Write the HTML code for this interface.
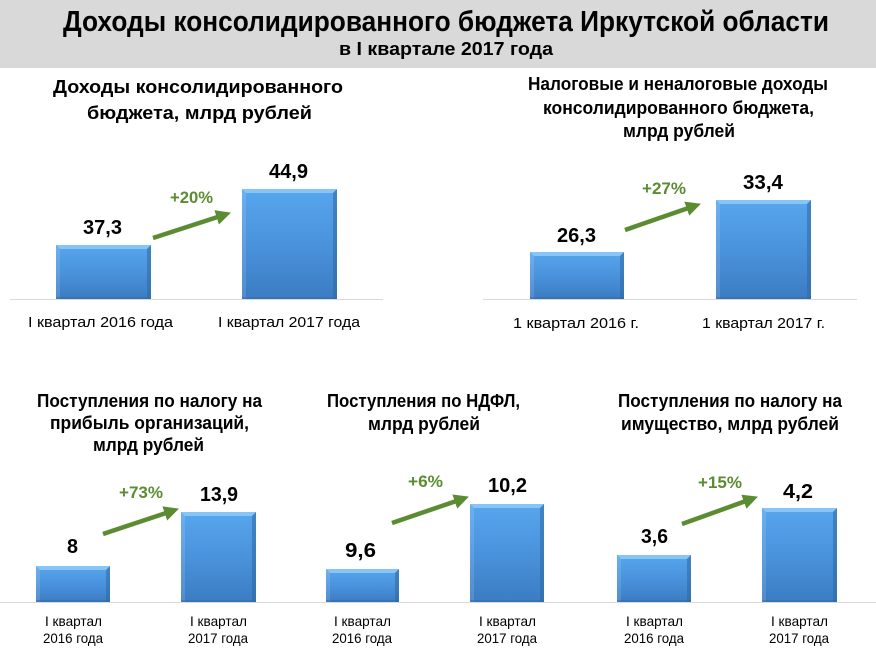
<!DOCTYPE html>
<html><head><meta charset="utf-8"><style>
html,body{margin:0;padding:0;background:#fff;}
svg{display:block;}
text{font-family:"Liberation Sans","DejaVu Sans",sans-serif;}
.t{font-weight:bold;fill:#000;}
.v{font-weight:bold;fill:#000;font-size:20px;}
.p{font-weight:bold;fill:#5b8c32;font-size:17px;}
.c{fill:#000;font-size:15px;}
.c2{fill:#000;font-size:14px;}
.h{font-weight:bold;fill:#000;font-size:18px;}
</style></head><body>
<svg width="876" height="658" viewBox="0 0 876 658" xmlns="http://www.w3.org/2000/svg">
<defs>
<linearGradient id="g" x1="0" y1="0" x2="0" y2="1">
<stop offset="0" stop-color="#57a6ee"/>
<stop offset="0.5" stop-color="#4a93dc"/>
<stop offset="1" stop-color="#3b7cc3"/>
</linearGradient>
<marker id="ah" markerUnits="userSpaceOnUse" markerWidth="15" markerHeight="15" viewBox="0 0 15 15" refX="1" refY="7.5" orient="auto">
<path d="M0,0 L15,7.5 L0,15 z" fill="#5b8c32"/>
</marker>
</defs>

<!-- header -->
<rect x="0" y="0" width="876" height="68" fill="#d9d9d9"/>
<text class="t" x="63" y="31" font-size="29" textLength="766" lengthAdjust="spacingAndGlyphs">Доходы консолидированного бюджета Иркутской области</text>
<text class="t" x="339" y="55" font-size="18" textLength="214" lengthAdjust="spacingAndGlyphs">в I квартале 2017 года</text>

<!-- axes -->
<line x1="10" y1="299.5" x2="383" y2="299.5" stroke="#d9d9d9" stroke-width="1"/>
<line x1="483" y1="299.5" x2="857" y2="299.5" stroke="#d9d9d9" stroke-width="1"/>
<line x1="0" y1="602.5" x2="876" y2="602.5" stroke="#d9d9d9" stroke-width="1"/>

<!-- Chart 1 -->
<text class="h" x="53" y="93" font-size="20" textLength="290" lengthAdjust="spacingAndGlyphs">Доходы консолидированного</text>
<text class="h" x="87" y="119" font-size="20" textLength="225" lengthAdjust="spacingAndGlyphs">бюджета, млрд рублей</text>

<g>
<rect x="56" y="245" width="95" height="54" fill="url(#g)"/>
<polygon points="56,245 151,245 147,249 60,249" fill="#86c6f6"/>
<polygon points="151,245 151,299 147,299 147,249" fill="#2f679f" opacity="0.55"/>
<polygon points="56,245 60,249 60,299 56,299" fill="#ffffff" opacity="0.12"/>
<rect x="56" y="297" width="95" height="2" fill="#2f679f" opacity="0.4"/>
</g>
<g>
<rect x="242" y="189" width="95" height="110" fill="url(#g)"/>
<polygon points="242,189 337,189 333,193 246,193" fill="#86c6f6"/>
<polygon points="337,189 337,299 333,299 333,193" fill="#2f679f" opacity="0.55"/>
<polygon points="242,189 246,193 246,299 242,299" fill="#ffffff" opacity="0.12"/>
<rect x="242" y="297" width="95" height="2" fill="#2f679f" opacity="0.4"/>
</g>
<text class="v" x="83" y="234" textLength="39" lengthAdjust="spacingAndGlyphs">37,3</text>
<text class="v" x="269" y="178" textLength="39" lengthAdjust="spacingAndGlyphs">44,9</text>
<text class="p" x="170" y="203" textLength="43" lengthAdjust="spacingAndGlyphs">+20%</text>
<line x1="153" y1="238" x2="217.6" y2="217.0" stroke="#5b8c32" stroke-width="4.5" marker-end="url(#ah)"/>
<text class="c" x="28" y="327" textLength="145" lengthAdjust="spacingAndGlyphs">I квартал 2016 года</text>
<text class="c" x="218" y="327" textLength="142" lengthAdjust="spacingAndGlyphs">I квартал 2017 года</text>

<!-- Chart 2 -->
<text class="h" x="528" y="90" textLength="300" lengthAdjust="spacingAndGlyphs">Налоговые и неналоговые доходы</text>
<text class="h" x="543" y="114" textLength="271" lengthAdjust="spacingAndGlyphs">консолидированного бюджета,</text>
<text class="h" x="623" y="137" textLength="112" lengthAdjust="spacingAndGlyphs">млрд рублей</text>

<g>
<rect x="530" y="252" width="94" height="47" fill="url(#g)"/>
<polygon points="530,252 624,252 620,256 534,256" fill="#86c6f6"/>
<polygon points="624,252 624,299 620,299 620,256" fill="#2f679f" opacity="0.55"/>
<polygon points="530,252 534,256 534,299 530,299" fill="#ffffff" opacity="0.12"/>
<rect x="530" y="297" width="94" height="2" fill="#2f679f" opacity="0.4"/>
</g>
<g>
<rect x="716" y="200" width="95" height="99" fill="url(#g)"/>
<polygon points="716,200 811,200 807,204 720,204" fill="#86c6f6"/>
<polygon points="811,200 811,299 807,299 807,204" fill="#2f679f" opacity="0.55"/>
<polygon points="716,200 720,204 720,299 716,299" fill="#ffffff" opacity="0.12"/>
<rect x="716" y="297" width="95" height="2" fill="#2f679f" opacity="0.4"/>
</g>
<text class="v" x="557" y="242" textLength="39" lengthAdjust="spacingAndGlyphs">26,3</text>
<text class="v" x="743" y="189" textLength="40" lengthAdjust="spacingAndGlyphs">33,4</text>
<text class="p" x="642" y="194" textLength="44" lengthAdjust="spacingAndGlyphs">+27%</text>
<line x1="625" y1="230" x2="687.7" y2="208.3" stroke="#5b8c32" stroke-width="4.5" marker-end="url(#ah)"/>
<text class="c" x="513" y="328" textLength="126" lengthAdjust="spacingAndGlyphs">1 квартал 2016 г.</text>
<text class="c" x="702" y="328" textLength="123" lengthAdjust="spacingAndGlyphs">1 квартал 2017 г.</text>

<!-- Chart 3 -->
<text class="h" x="37" y="407" textLength="225" lengthAdjust="spacingAndGlyphs">Поступления по налогу на</text>
<text class="h" x="50" y="429" textLength="199" lengthAdjust="spacingAndGlyphs">прибыль организаций,</text>
<text class="h" x="93" y="451" textLength="111" lengthAdjust="spacingAndGlyphs">млрд рублей</text>

<g>
<rect x="36" y="566" width="74" height="36" fill="url(#g)"/>
<polygon points="36,566 110,566 106,570 40,570" fill="#86c6f6"/>
<polygon points="110,566 110,602 106,602 106,570" fill="#2f679f" opacity="0.55"/>
<polygon points="36,566 40,570 40,602 36,602" fill="#ffffff" opacity="0.12"/>
<rect x="36" y="600" width="74" height="2" fill="#2f679f" opacity="0.4"/>
</g>
<g>
<rect x="181" y="512" width="75" height="90" fill="url(#g)"/>
<polygon points="181,512 256,512 252,516 185,516" fill="#86c6f6"/>
<polygon points="256,512 256,602 252,602 252,516" fill="#2f679f" opacity="0.55"/>
<polygon points="181,512 185,516 185,602 181,602" fill="#ffffff" opacity="0.12"/>
<rect x="181" y="600" width="75" height="2" fill="#2f679f" opacity="0.4"/>
</g>
<text class="v" x="67" y="553" textLength="11" lengthAdjust="spacingAndGlyphs">8</text>
<text class="v" x="200" y="501" textLength="38" lengthAdjust="spacingAndGlyphs">13,9</text>
<text class="p" x="119" y="498" textLength="44" lengthAdjust="spacingAndGlyphs">+73%</text>
<line x1="103" y1="534" x2="165.7" y2="513.1" stroke="#5b8c32" stroke-width="4.5" marker-end="url(#ah)"/>
<text class="c2" x="45" y="626" textLength="57" lengthAdjust="spacingAndGlyphs">I квартал</text>
<text class="c2" x="43" y="643" textLength="60" lengthAdjust="spacingAndGlyphs">2016 года</text>
<text class="c2" x="190" y="626" textLength="57" lengthAdjust="spacingAndGlyphs">I квартал</text>
<text class="c2" x="188" y="643" textLength="60" lengthAdjust="spacingAndGlyphs">2017 года</text>

<!-- Chart 4 -->
<text class="h" x="327" y="407" textLength="193" lengthAdjust="spacingAndGlyphs">Поступления по НДФЛ,</text>
<text class="h" x="368" y="430" textLength="112" lengthAdjust="spacingAndGlyphs">млрд рублей</text>

<g>
<rect x="326" y="569" width="73" height="33" fill="url(#g)"/>
<polygon points="326,569 399,569 395,573 330,573" fill="#86c6f6"/>
<polygon points="399,569 399,602 395,602 395,573" fill="#2f679f" opacity="0.55"/>
<polygon points="326,569 330,573 330,602 326,602" fill="#ffffff" opacity="0.12"/>
<rect x="326" y="600" width="73" height="2" fill="#2f679f" opacity="0.4"/>
</g>
<g>
<rect x="470" y="504" width="74" height="98" fill="url(#g)"/>
<polygon points="470,504 544,504 540,508 474,508" fill="#86c6f6"/>
<polygon points="544,504 544,602 540,602 540,508" fill="#2f679f" opacity="0.55"/>
<polygon points="470,504 474,508 474,602 470,602" fill="#ffffff" opacity="0.12"/>
<rect x="470" y="600" width="74" height="2" fill="#2f679f" opacity="0.4"/>
</g>
<text class="v" x="345" y="557" textLength="31" lengthAdjust="spacingAndGlyphs">9,6</text>
<text class="v" x="488" y="492" textLength="39" lengthAdjust="spacingAndGlyphs">10,2</text>
<text class="p" x="408" y="487" textLength="35" lengthAdjust="spacingAndGlyphs">+6%</text>
<line x1="392" y1="523" x2="455.7" y2="501.2" stroke="#5b8c32" stroke-width="4.5" marker-end="url(#ah)"/>
<text class="c2" x="334" y="626" textLength="57" lengthAdjust="spacingAndGlyphs">I квартал</text>
<text class="c2" x="332" y="643" textLength="60" lengthAdjust="spacingAndGlyphs">2016 года</text>
<text class="c2" x="479" y="626" textLength="57" lengthAdjust="spacingAndGlyphs">I квартал</text>
<text class="c2" x="477" y="643" textLength="60" lengthAdjust="spacingAndGlyphs">2017 года</text>

<!-- Chart 5 -->
<text class="h" x="618" y="407" textLength="224" lengthAdjust="spacingAndGlyphs">Поступления по налогу на</text>
<text class="h" x="621" y="430" textLength="218" lengthAdjust="spacingAndGlyphs">имущество, млрд рублей</text>

<g>
<rect x="617" y="555" width="74" height="47" fill="url(#g)"/>
<polygon points="617,555 691,555 687,559 621,559" fill="#86c6f6"/>
<polygon points="691,555 691,602 687,602 687,559" fill="#2f679f" opacity="0.55"/>
<polygon points="617,555 621,559 621,602 617,602" fill="#ffffff" opacity="0.12"/>
<rect x="617" y="600" width="74" height="2" fill="#2f679f" opacity="0.4"/>
</g>
<g>
<rect x="762" y="508" width="75" height="94" fill="url(#g)"/>
<polygon points="762,508 837,508 833,512 766,512" fill="#86c6f6"/>
<polygon points="837,508 837,602 833,602 833,512" fill="#2f679f" opacity="0.55"/>
<polygon points="762,508 766,512 766,602 762,602" fill="#ffffff" opacity="0.12"/>
<rect x="762" y="600" width="75" height="2" fill="#2f679f" opacity="0.4"/>
</g>
<text class="v" x="641" y="543" textLength="27" lengthAdjust="spacingAndGlyphs">3,6</text>
<text class="v" x="783" y="498" textLength="30" lengthAdjust="spacingAndGlyphs">4,2</text>
<text class="p" x="698" y="488" textLength="44" lengthAdjust="spacingAndGlyphs">+15%</text>
<line x1="682" y1="524" x2="744.8" y2="501.4" stroke="#5b8c32" stroke-width="4.5" marker-end="url(#ah)"/>
<text class="c2" x="626" y="626" textLength="57" lengthAdjust="spacingAndGlyphs">I квартал</text>
<text class="c2" x="624" y="643" textLength="60" lengthAdjust="spacingAndGlyphs">2016 года</text>
<text class="c2" x="771" y="626" textLength="57" lengthAdjust="spacingAndGlyphs">I квартал</text>
<text class="c2" x="769" y="643" textLength="60" lengthAdjust="spacingAndGlyphs">2017 года</text>
</svg>
</body></html>
